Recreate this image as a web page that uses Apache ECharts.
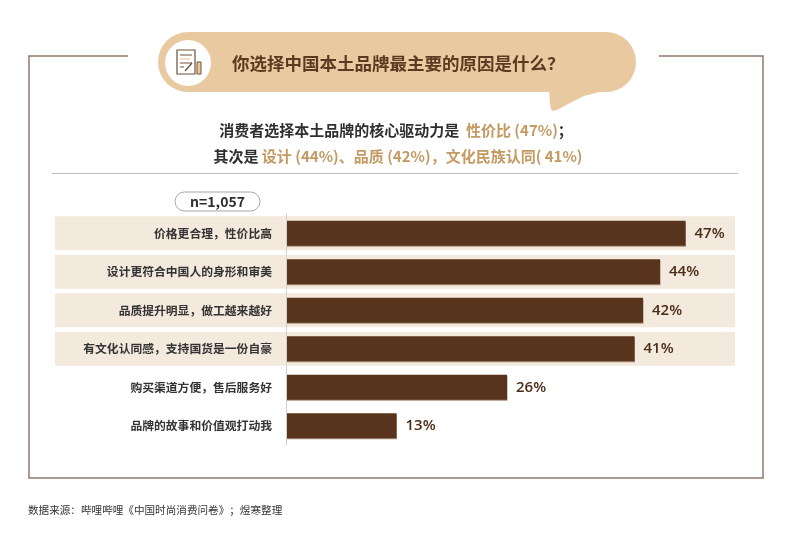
<!DOCTYPE html>
<html>
<head>
<meta charset="utf-8">
<script src="https://cdn.jsdelivr.net/npm/echarts@6/dist/echarts.min.js"></script>
<style>
  html, body { margin: 0; padding: 0; background: #fff; }
  #chart { width: 792px; height: 534px; }
</style>
</head>
<body>
<div id="chart"></div>
<script>
const categories = [
  "价格更合理，性价比高",
  "设计更符合中国人的身形和审美",
  "品质提升明显，做工越来越好",
  "有文化认同感，支持国货是一份自豪",
  "购买渠道方便，售后服务好",
  "品牌的故事和价值观打动我"
];
const values = [47, 44, 42, 41, 26, 13];
const bandRows = [1, 1, 1, 1, 0, 0];

const title = "你选择中国本土品牌最主要的原因是什么？";
const sampleText = "n=1,057";
const sourceText = "数据来源：哔哩哔哩《中国时尚消费问卷》；煜寒整理";

const FONT = "'Noto Sans CJK SC', 'Noto Sans', sans-serif";
const BROWN = "#58341d";
const TAN = "#e9caa0";
const GOLD = "#c39a62";

const chart = echarts.init(document.getElementById("chart"));

const gridTop = 214;
const gridHeight = 231;

const option = {
  backgroundColor: "#fff",
  animation: false,
  grid: [
    { left: 55, right: 57, top: gridTop, height: gridHeight },
    { left: 286, width: 425, top: gridTop, height: gridHeight }
  ],
  xAxis: [
    { gridIndex: 0, type: "value", min: 0, max: 1, show: false },
    { gridIndex: 1, type: "value", min: 0, max: 50, show: false }
  ],
  yAxis: [
    { gridIndex: 0, type: "category", data: categories, inverse: true, show: false },
    {
      gridIndex: 1,
      type: "category",
      data: categories,
      inverse: true,
      axisLine: { show: true, lineStyle: { color: "#d4d0cc", width: 1 } },
      axisTick: { show: false },
      axisLabel: {
        margin: 14,
        color: "#333",
        fontSize: 11.8,
        fontWeight: "bold",
        fontFamily: FONT
      },
      z: 5
    }
  ],
  series: [
    {
      type: "bar",
      xAxisIndex: 0,
      yAxisIndex: 0,
      data: bandRows,
      barWidth: 34,
      itemStyle: { color: "#f3e9dd" },
      silent: true,
      z: 1
    },
    {
      type: "bar",
      xAxisIndex: 1,
      yAxisIndex: 1,
      data: values,
      barWidth: 25,
      itemStyle: {
        color: BROWN,
        shadowColor: "#a8907c",
        shadowOffsetY: 1,
        shadowOffsetX: 0.5,
        shadowBlur: 0
      },
      label: {
        show: true,
        position: "right",
        distance: 9,
        formatter: "{c}%",
        color: "#4a2c17",
        fontSize: 15,
        fontFamily: "'Open Sans', 'Noto Sans', sans-serif",
        fontWeight: 600
      },
      z: 3
    }
  ],
  graphic: [
    // outer frame
    {
      type: "polyline",
      shape: { points: [[128, 56], [29, 56], [29, 478], [763, 478], [763, 56], [659, 56]] },
      style: { stroke: "#8e7a6b", lineWidth: 1.5, fill: null }
    },
    // speech bubble
    {
      type: "rect",
      shape: { x: 158, y: 32, width: 478, height: 60, r: 30 },
      style: { fill: TAN }
    },
    {
      type: "polygon",
      shape: {
        points: [[549, 88], [550, 104], [551, 109], [553, 111], [557, 110], [568, 104], [584, 96], [603, 91]]
      },
      style: { fill: TAN }
    },
    {
      type: "circle",
      shape: { cx: 188, cy: 63, r: 23 },
      style: { fill: "#fff" }
    },
    // icon: document
    {
      type: "rect",
      shape: { x: 177, y: 50, width: 18, height: 24 },
      style: { fill: "#fff", stroke: "#6e4f3a", lineWidth: 1.2 }
    },
    { type: "line", shape: { x1: 180, y1: 55, x2: 192, y2: 55 }, style: { stroke: "#6e4f3a", lineWidth: 1 } },
    { type: "line", shape: { x1: 180, y1: 59, x2: 190, y2: 59 }, style: { stroke: TAN, lineWidth: 1.2 } },
    { type: "line", shape: { x1: 180, y1: 63, x2: 192, y2: 63 }, style: { stroke: "#6e4f3a", lineWidth: 1 } },
    { type: "line", shape: { x1: 180, y1: 67, x2: 184, y2: 67 }, style: { stroke: "#6e4f3a", lineWidth: 1 } },
    { type: "line", shape: { x1: 185, y1: 71, x2: 192, y2: 63 }, style: { stroke: "#6e4f3a", lineWidth: 1.4 } },
    {
      type: "rect",
      shape: { x: 197, y: 62, width: 4, height: 12 },
      style: { fill: TAN, stroke: "#6e4f3a", lineWidth: 1 }
    },
    // title
    {
      type: "text",
      x: 232,
      y: 63,
      style: {
        text: title,
        fill: "#5b3a21",
        font: "bold 17.5px " + FONT,
        verticalAlign: "middle"
      }
    },
    // subtitle
    {
      type: "text",
      x: 396,
      y: 130,
      style: {
        text: "{d|消费者选择本土品牌的核心驱动力是  }{g|性价比 (47%)}{d|；}",
        align: "center",
        verticalAlign: "middle",
        rich: {
          d: { fill: "#2f2f2f", font: "bold 15px " + FONT },
          g: { fill: GOLD, font: "bold 15px " + FONT }
        }
      }
    },
    {
      type: "text",
      x: 398,
      y: 156,
      style: {
        text: "{d|其次是 }{g|设计 (44%)、品质 (42%)，文化民族认同( 41%)}",
        align: "center",
        verticalAlign: "middle",
        rich: {
          d: { fill: "#2f2f2f", font: "bold 15px " + FONT },
          g: { fill: GOLD, font: "bold 15px " + FONT }
        }
      }
    },
    {
      type: "line",
      shape: { x1: 52, y1: 173.5, x2: 738, y2: 173.5 },
      style: { stroke: "#bdbdbd", lineWidth: 1 }
    },
    // sample size pill
    {
      type: "rect",
      shape: { x: 175, y: 192, width: 85, height: 19, r: 9.5 },
      style: { fill: "#fff", stroke: "#a8a8a8", lineWidth: 1 }
    },
    {
      type: "text",
      x: 217.5,
      y: 201.5,
      style: {
        text: sampleText,
        fill: "#2f2f2f",
        font: "bold 14px " + FONT,
        align: "center",
        verticalAlign: "middle"
      }
    },
    // source
    {
      type: "text",
      x: 28,
      y: 510,
      style: {
        text: sourceText,
        fill: "#333",
        font: "10.6px " + FONT,
        verticalAlign: "middle"
      }
    }
  ]
};

chart.setOption(option);
</script>
</body>
</html>
